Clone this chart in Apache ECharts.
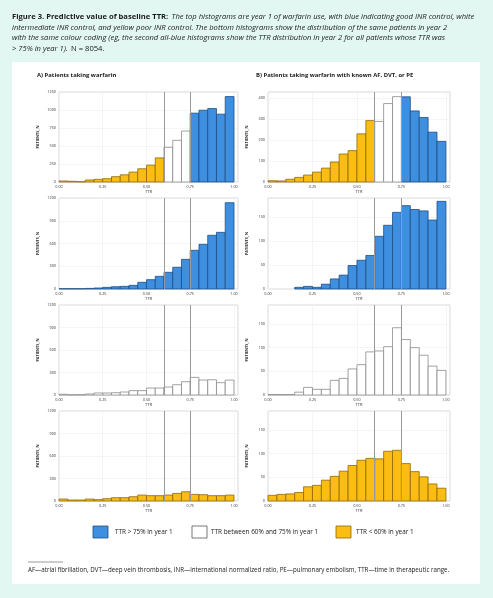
<!DOCTYPE html>
<html><head><meta charset="utf-8">
<script src="https://cdn.jsdelivr.net/npm/echarts@6/dist/echarts.min.js"></script>
<style>html,body{margin:0;padding:0;background:#e3f7f2}#c{width:493px;height:598px}</style>
</head><body><div id="c"></div>
<script>
// ---- data ----
const bins = [0.00,0.05,0.10,0.15,0.20,0.25,0.30,0.35,0.40,0.45,0.50,0.55,0.60,0.65,0.70,0.75,0.80,0.85,0.90,0.95];
const binWidth = 0.05;
const thresholds = [0.60, 0.75];
const xTicks = [0, 0.25, 0.5, 0.75, 1.0];
// Panel A: all patients taking warfarin
const aYear1     = [14,10,4,28,37,46,74,100,138,184,234,335,482,579,708,956,997,1020,942,1186];
const aYear2Good = [4,4,4,8,13,22,30,35,48,88,123,167,220,286,391,510,589,708,747,1138];
const aYear2Mid  = [9,2,4,13,27,27,31,40,58,58,93,93,106,137,177,235,199,203,164,199];
const aYear2Poor = [26,13,13,26,18,31,44,44,57,79,71,71,79,101,123,88,84,71,71,79];
// Panel B: known AF, DVT or PE
const bYear1     = [6,5,13,22,33,47,66,95,133,149,229,292,288,373,406,405,338,307,237,193];
const bYear2Good = [0,0,0,3.5,5.5,3.5,10,21,29,49,60,70,110,133,160,174,166,163,144,183];
const bYear2Mid  = [1,1,1,6,16,12,12,31,35,55,64,91,93,102,142,117,100,84,61,52];
const bYear2Poor = [12,14,15,18,30,33,44,52,63,75,86,90,89,105,107,79,62,51,36,27];

const aYMax = [1250,1200,1200,1200], aYInt = [250,300,300,300];
const bYMax = [428,190,190,190],     bYInt = [100,50,50,50];

const legendLabels = ['TTR > 75% in year 1','TTR between 60% and 75% in year 1','TTR < 60% in year 1'];

// ---- styles ----
const FILL = ['#fbbd14','#ffffff','#3f8fe0'];   // poor, mid, good
const STROKE = ['#8a6a08','#8a8a8a','#1f4c80'];
const FONT = 'Open Sans';

const chart = echarts.init(document.getElementById('c'), null, {renderer:'canvas'});

const rowTops = [92,198,305,411], rowH = [90,91,90,90];
const cols = [{left:59,width:179},{left:268,width:182}];

const grids=[], xAxes=[], yAxes=[], series=[];
function category(x){ return x < 0.6 - 1e-9 ? 0 : (x < 0.75 - 1e-9 ? 1 : 2); }

function addPanel(col,row,values,ymax,yint,fixedCat){
  const gi = grids.length;
  grids.push({left:cols[col].left, top:rowTops[row], width:cols[col].width, height:rowH[row],
    show:true, borderColor:'#cfcfcf', borderWidth:0.8, backgroundColor:'#fff'});
  xAxes.push({type:'value', gridIndex:gi, min:0, max:1.023, interval:0.25,
    name:'TTR', nameLocation:'middle', nameGap:8,
    nameTextStyle:{fontSize:4, color:'#333', fontFamily:FONT},
    axisLine:{show:false}, axisTick:{show:false},
    axisLabel:{fontSize:3.8, color:'#333', margin:3, fontFamily:FONT,
      formatter:v=> xTicks.some(t=>Math.abs(t-v)<1e-6) ? v.toFixed(2) : ''},
    splitLine:{show:true, lineStyle:{color:'#efefef', width:0.6}}});
  yAxes.push({type:'value', gridIndex:gi, min:0, max:ymax, interval:yint,
    name:'PATIENTS, N', nameLocation:'middle', nameRotate:90, nameGap:19,
    nameTextStyle:{fontSize:3.8, color:'#333', fontWeight:'bold', fontFamily:FONT},
    axisLine:{show:false}, axisTick:{show:false},
    axisLabel:{fontSize:3.8, color:'#333', margin:3, fontFamily:FONT,
      formatter:v=> (Math.abs(v/yint - Math.round(v/yint))<1e-6) ? String(v) : ''},
    splitLine:{show:true, lineStyle:{color:'#efefef', width:0.6}}});
  const data = values.map((v,i)=>[bins[i], bins[i]+binWidth, v, fixedCat==null ? category(bins[i]) : fixedCat]);
  series.push({type:'custom', xAxisIndex:gi, yAxisIndex:gi, data,
    encode:{x:[0,1], y:2},
    renderItem:(params,api)=>{
      const v = api.value(2); if(!v) return null;
      const c = api.value(3);
      const p0 = api.coord([api.value(0), v]);
      const p1 = api.coord([api.value(1), 0]);
      return {type:'rect', shape:{x:p0[0], y:p0[1], width:p1[0]-p0[0], height:p1[1]-p0[1]},
        style:{fill:FILL[c], stroke:STROKE[c], lineWidth:0.8}};
    },
    markLine:{silent:true, symbol:'none', animation:false, label:{show:false},
      lineStyle:{color:'#9a9a9a', type:'solid', width:1},
      data: thresholds.map(t=>({xAxis:t}))},
    animation:false});
}

addPanel(0,0,aYear1,aYMax[0],aYInt[0],null);
addPanel(0,1,aYear2Good,aYMax[1],aYInt[1],2);
addPanel(0,2,aYear2Mid,aYMax[2],aYInt[2],1);
addPanel(0,3,aYear2Poor,aYMax[3],aYInt[3],0);
addPanel(1,0,bYear1,bYMax[0],bYInt[0],null);
addPanel(1,1,bYear2Good,bYMax[1],bYInt[1],2);
addPanel(1,2,bYear2Mid,bYMax[2],bYInt[2],1);
addPanel(1,3,bYear2Poor,bYMax[3],bYInt[3],0);

const CAP = 7.6;
const capStyle = {b:{fontWeight:'bold', fontSize:CAP, fontFamily:FONT, fill:'#1a1a1a'},
                  i:{fontStyle:'italic', fontSize:CAP, fontFamily:FONT, fill:'#1a1a1a'},
                  n:{fontSize:CAP, fontFamily:FONT, fill:'#1a1a1a'}};
const capLines = [
  '{b|Figure 3. Predictive value of baseline TTR:} {i|The top histograms are year 1 of warfarin use, with blue indicating good INR control, white}',
  '{i|intermediate INR control, and yellow poor INR control. The bottom histograms show the distribution of the same patients in year 2}',
  '{i|with the same colour coding (eg, the second all-blue histograms show the TTR distribution in year 2 for all patients whose TTR was}',
  '{i|> 75% in year 1).} {n|N = 8054.}'
];
const capY = [17,27.5,38,48.5];

const graphics = [
  {type:'rect', z:-10, shape:{x:12, y:62, width:468, height:522}, style:{fill:'#ffffff'}},
  ...capLines.map((t,k)=>({type:'text', x:12, y:capY[k], style:{text:t, rich:capStyle, verticalAlign:'middle', align:'left'}})),
  {type:'text', x:37, y:75, style:{text:'A) Patients taking warfarin', font:'bold 5.9px "Open Sans"', fill:'#1a1a1a', verticalAlign:'middle'}},
  {type:'text', x:256, y:75, style:{text:'B) Patients taking warfarin with known AF, DVT, or PE', font:'bold 5.9px "Open Sans"', fill:'#1a1a1a', verticalAlign:'middle'}},
  // legend
  {type:'rect', shape:{x:93, y:526, width:15, height:12}, style:{fill:FILL[2], stroke:STROKE[2], lineWidth:0.8}},
  {type:'text', x:115, y:532, style:{text:legendLabels[0], font:'6.4px "Open Sans"', fill:'#1a1a1a', verticalAlign:'middle'}},
  {type:'rect', shape:{x:192, y:526, width:15, height:12}, style:{fill:FILL[1], stroke:'#555', lineWidth:0.8}},
  {type:'text', x:211, y:532, style:{text:legendLabels[1], font:'6.4px "Open Sans"', fill:'#1a1a1a', verticalAlign:'middle'}},
  {type:'rect', shape:{x:336, y:526, width:15, height:12}, style:{fill:FILL[0], stroke:STROKE[0], lineWidth:0.8}},
  {type:'text', x:356, y:532, style:{text:legendLabels[2], font:'6.4px "Open Sans"', fill:'#1a1a1a', verticalAlign:'middle'}},
  // footnote
  {type:'line', shape:{x1:28, y1:562, x2:63, y2:562}, style:{stroke:'#555', lineWidth:0.6}},
  {type:'text', x:28, y:570, style:{text:'AF\u2014atrial fibrillation, DVT\u2014deep vein thrombosis, INR\u2014international normalized ratio, PE\u2014pulmonary embolism, TTR\u2014time in therapeutic range.', font:'6.2px "Open Sans"', fill:'#1a1a1a', verticalAlign:'middle'}}
];

chart.setOption({
  backgroundColor:'#e3f7f2',
  animation:false,
  grid:grids, xAxis:xAxes, yAxis:yAxes, series,
  graphic:graphics
});
</script></body></html>
